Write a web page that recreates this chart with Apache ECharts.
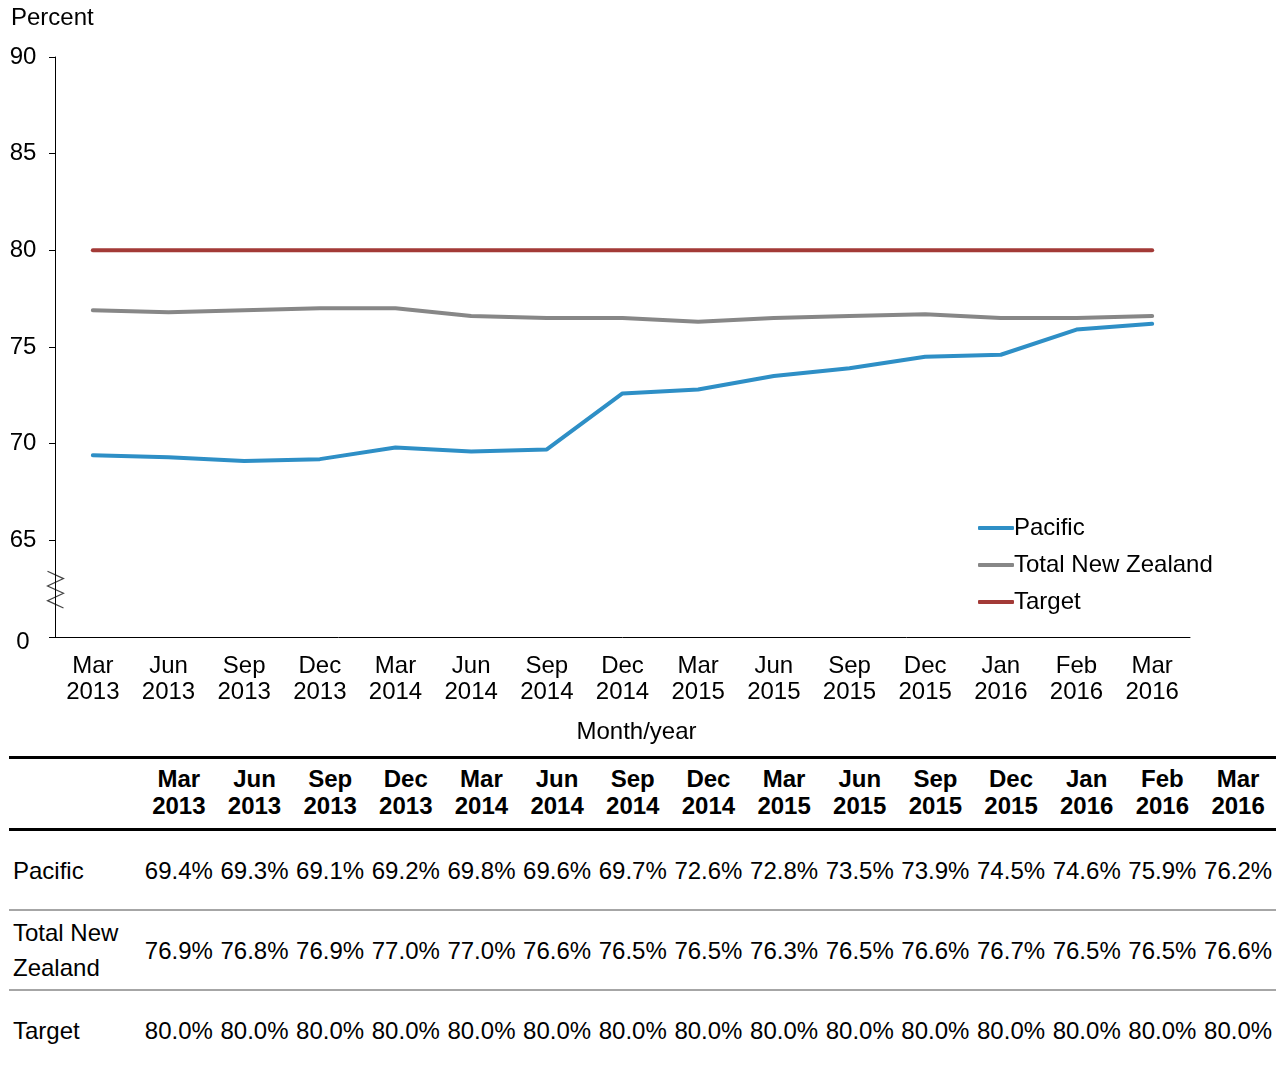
<!DOCTYPE html>
<html>
<head>
<meta charset="utf-8">
<script src="https://cdn.jsdelivr.net/npm/echarts@6/dist/echarts.min.js"></script>
<style>
    body { margin: 0; background: #fff; font-family: "Liberation Sans", Arial, sans-serif; }
    #chart { position: absolute; left: 0; top: 0; width: 1285px; height: 750px; }
    #tbl { position: absolute; left: 9px; top: 756px; width: 1267px; border-collapse: collapse; font-size: 24px; color: #000; }
    #tbl th, #tbl td { padding: 0; text-align: center; vertical-align: middle; }
    #tbl th { font-weight: bold; line-height: 27px; height: 65px; padding-bottom: 4px; }
    #tbl thead tr { border-top: 3px solid #000; border-bottom: 3px solid #000; }
    #tbl td { height: 78px; line-height: 35px; }
    #tbl td.lbl { text-align: left; padding-left: 4px; width: 128px; }
    #tbl tbody tr.sep { border-bottom: 2px solid #a6a6a6; }
</style>
</head>
<body>
<div id="chart"></div>
<table id="tbl"><thead></thead><tbody></tbody></table>
<script>
var months = ["Mar","Jun","Sep","Dec","Mar","Jun","Sep","Dec","Mar","Jun","Sep","Dec","Jan","Feb","Mar"];
var years  = ["2013","2013","2013","2013","2014","2014","2014","2014","2015","2015","2015","2015","2016","2016","2016"];
var pacific = [69.4,69.3,69.1,69.2,69.8,69.6,69.7,72.6,72.8,73.5,73.9,74.5,74.6,75.9,76.2];
var totalNZ = [76.9,76.8,76.9,77.0,77.0,76.6,76.5,76.5,76.3,76.5,76.6,76.7,76.5,76.5,76.6];
var target  = [80,80,80,80,80,80,80,80,80,80,80,80,80,80,80];
var rowNames = ["Pacific","Total New<br>Zealand","Target"];

var categories = [];
for(var i=0;i<months.length;i++){
    categories.push(months[i]+"\n"+years[i]);
}

var FONT = "Liberation Sans";
var FS = 24;
var chart = echarts.init(document.getElementById('chart'));

function lineSeries(name,data,color){
    return {
        name:name,
        type:'line',
        data:data,
        symbol:'none',
        lineStyle:{width:4,color:color,cap:'round',join:'round'},
        itemStyle:{color:color},
        emphasis:{disabled:true}
    };
}

var option = {
    animation:false,
    textStyle:{fontFamily:FONT},
    grid:{left:55,right:95,top:57,bottom:113,outerBoundsMode:'none',containLabel:false},
    legend:{
        orient:'vertical',
        left:978,
        top:516,
        padding:0,
        itemWidth:36,
        itemHeight:4,
        itemGap:13,
        icon:'roundRect',
        textStyle:{fontFamily:FONT,fontSize:FS,color:'#000',padding:[0,0,0,-5]},
        data:['Pacific','Total New Zealand','Target']
    },
    xAxis:{
        type:'category',
        data:categories,
        boundaryGap:true,
        name:'Month/year',
        nameLocation:'middle',
        nameGap:83,
        nameTextStyle:{fontFamily:FONT,fontSize:FS,color:'#000',padding:[0,0,0,28]},
        axisLine:{lineStyle:{color:'#000',width:1}},
        axisTick:{show:false},
        axisLabel:{color:'#000',fontFamily:FONT,fontSize:FS,lineHeight:26,margin:16,interval:0}
    },
    yAxis:{
        type:'value',
        min:60,
        max:90,
        interval:5,
        axisLine:{show:true,lineStyle:{color:'#000',width:1}},
        axisTick:{show:true,length:6,lineStyle:{color:'#000'}},
        splitLine:{show:false},
        axisLabel:{
            color:'#000',fontFamily:FONT,fontSize:FS,align:'center',margin:32,
            formatter:function(v){ return v===60 ? '{z|0}' : String(v); },
            rich:{z:{fontFamily:FONT,fontSize:FS,color:'#000',padding:[10,0,0,0]}}
        }
    },
    series:[
        lineSeries('Pacific',pacific,'#2e8fc6'),
        lineSeries('Total New Zealand',totalNZ,'#878787'),
        lineSeries('Target',target,'#a33a37')
    ]
};
chart.setOption(option);

// axis break marker between 65 and the "0" baseline
var breakTop = chart.convertToPixel({yAxisIndex:0},63.4);
var breakBot = chart.convertToPixel({yAxisIndex:0},61.5);
var axisX = 55.5;
var pts = [];
for(var k=0;k<6;k++){
    pts.push([k%2===0 ? axisX-8 : axisX+8, breakTop+(breakBot-breakTop)*k/5]);
}
chart.setOption({graphic:[{
    type:'text',left:11,top:6,
    style:{text:'Percent',fontFamily:FONT,fontSize:FS,fill:'#000'}
},{
    type:'polyline',
    shape:{points:pts},
    style:{stroke:'#444',lineWidth:1.2,fill:null}
}]});

// data table below the chart
var head = '<tr><th style="width:132px"></th>';
for(var c=0;c<months.length;c++){
    head += '<th>'+months[c]+'<br>'+years[c]+'</th>';
}
head += '</tr>';
document.querySelector('#tbl thead').innerHTML = head;

var rows = [pacific,totalNZ,target];
var body = '';
for(var r=0;r<rows.length;r++){
    body += '<tr'+(r<rows.length-1?' class="sep"':'')+'><td class="lbl">'+rowNames[r]+'</td>';
    for(var j=0;j<rows[r].length;j++){
        body += '<td>'+rows[r][j].toFixed(1)+'%</td>';
    }
    body += '</tr>';
}
document.querySelector('#tbl tbody').innerHTML = body;
</script>
</body>
</html>
